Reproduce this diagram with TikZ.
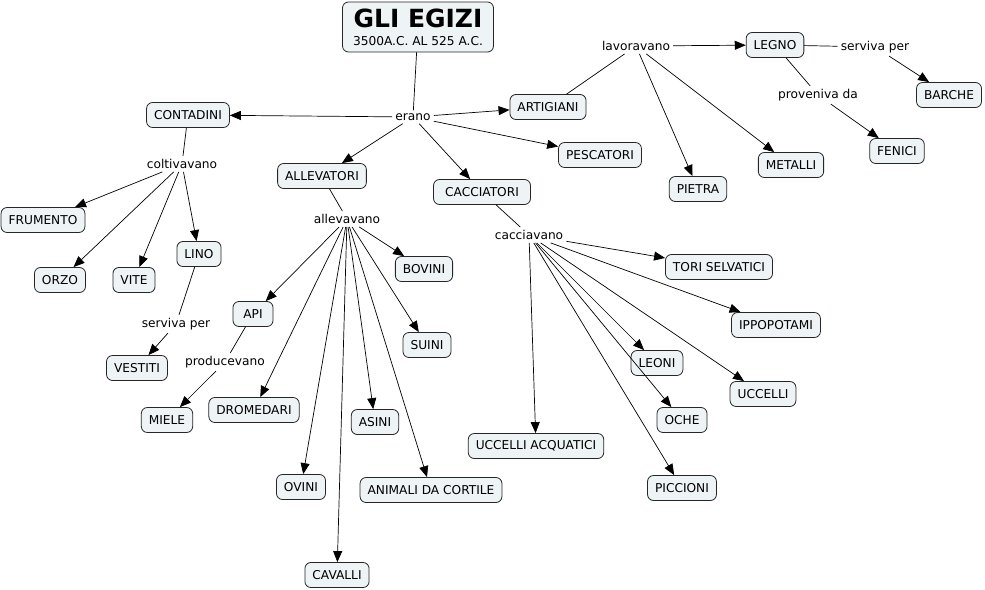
\documentclass[tikz,border=0pt]{standalone}
\usepackage{fontspec}
\setmainfont{DejaVu Sans}
\usetikzlibrary{arrows.meta}
\definecolor{boxfill}{HTML}{EEF3F5}
\begin{document}
\begin{tikzpicture}[x=1pt,y=-1pt, font=\fontsize{12.2}{14}\selectfont,
 concept/.style={draw=black!85, fill=boxfill, rounded corners=6pt, minimum height=25pt, inner xsep=7.5pt, line width=0.8pt},
 link/.style={inner sep=3pt},
 con/.style={line width=0.7pt},
 arr/.style={con, -{Triangle[length=11pt,width=9pt]}}]
\useasboundingbox (0,0) rectangle (985,589);
% concepts
\node[concept, align=center, minimum height=50pt, minimum width=151pt, inner ysep=3pt] (title) at (418,27) {{\fontsize{25}{25}\selectfont\bfseries GLI EGIZI}\\[4pt]3500A.C. AL 525 A.C.};
\node[concept] (contadini) at (188,115) {CONTADINI};
\node[concept] (artigiani) at (548,107) {ARTIGIANI};
\node[concept] (pescatori) at (600,155) {PESCATORI};
\node[concept] (allevatori) at (322,176) {ALLEVATORI};
\node[concept, minimum width=97pt] (cacciatori) at (482,192) {CACCIATORI};
\node[concept] (legno) at (775,45) {LEGNO};
\node[concept] (barche) at (949,95) {BARCHE};
\node[concept] (fenici) at (897,151) {FENICI};
\node[concept] (metalli) at (791,165) {METALLI};
\node[concept] (pietra) at (698,189) {PIETRA};
\node[concept] (frumento) at (43,220) {FRUMENTO};
\node[concept] (orzo) at (60,280) {ORZO};
\node[concept] (vite) at (134,280) {VITE};
\node[concept] (lino) at (199,254) {LINO};
\node[concept] (vestiti) at (137,368) {VESTITI};
\node[concept, minimum width=40pt] (api) at (253,314) {API};
\node[concept] (miele) at (167,420) {MIELE};
\node[concept] (bovini) at (424,269) {BOVINI};
\node[concept] (suini) at (427,345) {SUINI};
\node[concept] (dromedari) at (254,410) {DROMEDARI};
\node[concept] (asini) at (375,422) {ASINI};
\node[concept] (ovini) at (301,487) {OVINI};
\node[concept] (cortile) at (431,490) {ANIMALI DA CORTILE};
\node[concept] (cavalli) at (337,575) {CAVALLI};
\node[concept] (tori) at (719,267) {TORI SELVATICI};
\node[concept] (ippo) at (776,325) {IPPOPOTAMI};
\node[concept] (leoni) at (657,363) {LEONI};
\node[concept] (uccelli) at (763,394) {UCCELLI};
\node[concept] (oche) at (682,420) {OCHE};
\node[concept] (acquatici) at (536,446) {UCCELLI ACQUATICI};
\node[concept] (piccioni) at (682,488) {PICCIONI};
% linking phrases
\node[link] (erano) at (413,117) {erano};
\node[link] (lavoravano) at (636,46) {lavoravano};
\node[link] (servivaA) at (875,47) {serviva per};
\node[link] (proveniva) at (818,95) {proveniva da};
\node[link] (coltivavano) at (182,164) {coltivavano};
\node[link] (servivaB) at (176,324) {serviva per};
\node[link] (producevano) at (225,362) {producevano};
\node[link] (allevavano) at (347,219) {allevavano};
\node[link] (cacciavano) at (529,235) {cacciavano};
% connectors
\draw[con] (title) -- (erano);
\draw[arr] (erano) -- (contadini);
\draw[arr] (erano) -- (artigiani);
\draw[arr] (erano) -- (pescatori);
\draw[arr] (erano) -- (allevatori);
\draw[arr] (erano) -- (cacciatori);
\draw[con] (artigiani) -- (lavoravano);
\draw[arr] (lavoravano) -- (legno);
\draw[arr] (lavoravano) -- (pietra);
\draw[arr] (lavoravano) -- (metalli);
\draw[con] (legno) -- (servivaA);
\draw[arr] (servivaA) -- (barche);
\draw[con] (legno) -- (proveniva);
\draw[arr] (proveniva) -- (fenici);
\draw[con] (contadini) -- (coltivavano);
\draw[arr] (coltivavano) -- (frumento);
\draw[arr] (coltivavano) -- (orzo);
\draw[arr] (coltivavano) -- (vite);
\draw[arr] (coltivavano) -- (lino);
\draw[con] (lino) -- (servivaB);
\draw[arr] (servivaB) -- (vestiti);
\draw[con] (api) -- (producevano);
\draw[arr] (producevano) -- (miele);
\draw[con] (allevatori) -- (allevavano);
\draw[arr] (allevavano) -- (api);
\draw[arr] (allevavano) -- (dromedari);
\draw[arr] (allevavano) -- (ovini);
\draw[arr] (allevavano) -- (cavalli);
\draw[arr] (allevavano) -- (asini);
\draw[arr] (allevavano) -- (cortile);
\draw[arr] (allevavano) -- (suini);
\draw[arr] (allevavano) -- (bovini);
\draw[con] (cacciatori) -- (cacciavano);
\draw[arr] (cacciavano) -- (tori);
\draw[arr] (cacciavano) -- (ippo);
\draw[arr] (cacciavano) -- (leoni);
\draw[arr] (cacciavano) -- (uccelli);
\draw[arr] (cacciavano) -- (oche);
\draw[arr] (cacciavano) -- (piccioni);
\draw[arr] (cacciavano) -- (acquatici);
\end{tikzpicture}
\end{document}
